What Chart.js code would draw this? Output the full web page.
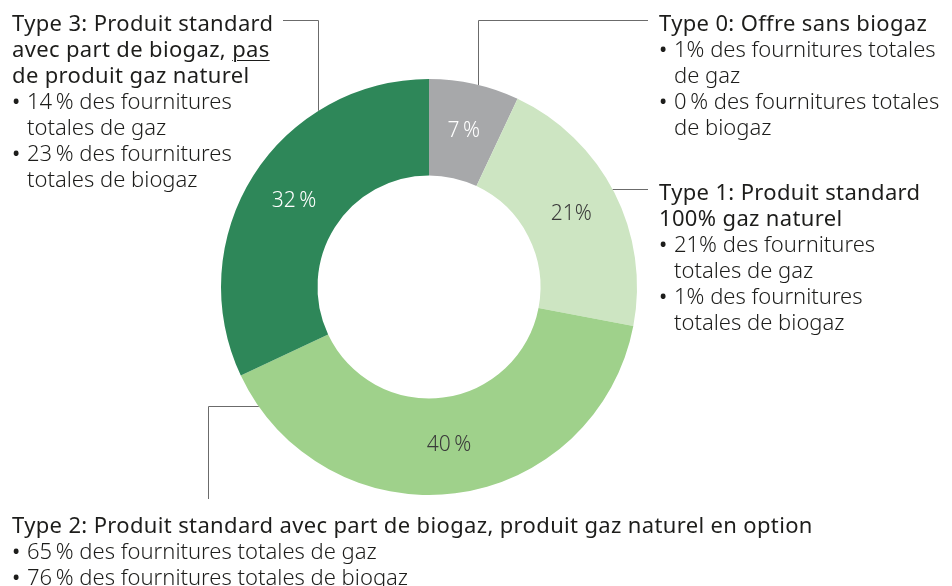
<!DOCTYPE html>
<html><head><meta charset="utf-8">
<script src="https://cdn.jsdelivr.net/npm/chart.js@4.4.1/dist/chart.umd.min.js"></script>
<style>
html,body{margin:0;padding:0;background:#fff;}
#wrap{position:relative;width:952px;height:586px;overflow:hidden;font-family:"Noto Sans",sans-serif;color:#1d1d1b;}
#c{position:absolute;left:0;top:0;}
.note{position:absolute;font-size:22px;line-height:26px;white-space:nowrap;font-weight:300;}
.note .h{font-weight:400;letter-spacing:0.35px;}
.note .l{padding-left:15px;}
.note .bul{display:inline-block;width:15px;margin-left:-15px;font-weight:400;}
u{text-decoration-thickness:1px;text-underline-offset:3px;}
</style></head>
<body><div id="wrap">
<canvas id="c" width="952" height="586"></canvas>
<div class="note" style="left:12px;top:9px;">
  <div class="h">Type 3: Produit standard</div>
  <div class="h">avec part de biogaz, <u>pas</u></div>
  <div class="h">de produit gaz naturel</div>
  <div class="l"><span class="bul">•</span>14&#8201;% des fournitures</div>
  <div class="l">totales de gaz</div>
  <div class="l"><span class="bul">•</span>23&#8201;% des fournitures</div>
  <div class="l">totales de biogaz</div>
</div>
<div class="note" style="left:659px;top:9px;">
  <div class="h">Type 0: Offre sans biogaz</div>
  <div class="l"><span class="bul">•</span>1% des fournitures totales</div>
  <div class="l">de gaz</div>
  <div class="l"><span class="bul">•</span>0&#8201;% des fournitures totales</div>
  <div class="l">de biogaz</div>
</div>
<div class="note" style="left:659px;top:178px;">
  <div class="h">Type 1: Produit standard</div>
  <div class="h">100% gaz naturel</div>
  <div class="l"><span class="bul">•</span>21% des fournitures</div>
  <div class="l">totales de gaz</div>
  <div class="l"><span class="bul">•</span>1% des fournitures</div>
  <div class="l">totales de biogaz</div>
</div>
<div class="note" style="left:12px;top:511px;">
  <div class="h">Type 2: Produit standard avec part de biogaz, produit gaz naturel en option</div>
  <div class="l"><span class="bul">•</span>65&#8201;% des fournitures totales de gaz</div>
  <div class="l"><span class="bul">•</span>76&#8201;% des fournitures totales de biogaz</div>
</div>
</div>
<script>
const categories = ['Type 0', 'Type 1', 'Type 2', 'Type 3'];
const shares = [7, 21, 40, 32];
const shareLabels = ['7\u2009%', '21%', '40\u2009%', '32\u2009%'];
const sliceColors = ['#a7a8aa', '#cde5c2', '#9fd18b', '#2e8759'];
const labelColors = ['#ffffff', '#3a3a3a', '#3a3a3a', '#ffffff'];

const sliceLabelPlugin = {
  id: 'sliceLabels',
  afterDatasetsDraw(chart) {
    const ctx = chart.ctx;
    const meta = chart.getDatasetMeta(0);
    ctx.save();
    ctx.font = '300 21px "Noto Sans", sans-serif';
    ctx.textAlign = 'center';
    ctx.textBaseline = 'middle';
    meta.data.forEach((arc, i) => {
      const p = arc.tooltipPosition();
      ctx.fillStyle = labelColors[i];
      ctx.fillText(shareLabels[i], p.x, p.y);
    });
    ctx.restore();
  }
};

const leaderPlugin = {
  id: 'leaders',
  afterDraw(chart) {
    const ctx = chart.ctx;
    const a = chart.getDatasetMeta(0).data[0];
    const cx = a.x, cy = a.y, R = a.outerRadius;
    const yAt = x => cy - Math.sqrt(R * R - (x - cx) * (x - cx));
    const xRight = y => cx + Math.sqrt(R * R - (y - cy) * (y - cy));
    const xLeft = y => cx - Math.sqrt(R * R - (y - cy) * (y - cy));
    ctx.save();
    ctx.strokeStyle = '#6b6b6b';
    ctx.lineWidth = 1;
    const line = pts => {
      ctx.beginPath();
      ctx.moveTo(pts[0][0], pts[0][1]);
      for (let k = 1; k < pts.length; k++) ctx.lineTo(pts[k][0], pts[k][1]);
      ctx.stroke();
    };
    line([[283, 20.5], [318.5, 20.5], [318.5, yAt(318.5)]]);
    line([[648, 20.5], [478.5, 20.5], [478.5, yAt(478.5)]]);
    line([[648, 189.5], [xRight(189.5), 189.5]]);
    line([[xLeft(406.5), 406.5], [208.5, 406.5], [208.5, 499]]);
    ctx.restore();
  }
};

new Chart(document.getElementById('c'), {
  type: 'doughnut',
  data: {
    labels: categories,
    datasets: [{
      data: shares,
      backgroundColor: sliceColors,
      borderWidth: 0,
      hoverOffset: 0
    }]
  },
  options: {
    responsive: false,
    animation: false,
    devicePixelRatio: 1,
    cutout: '53.6%',
    layout: { padding: { left: 221, top: 79, right: 315, bottom: 91 } },
    plugins: { legend: { display: false }, tooltip: { enabled: false } }
  },
  plugins: [sliceLabelPlugin, leaderPlugin]
});
</script>
</body></html>
